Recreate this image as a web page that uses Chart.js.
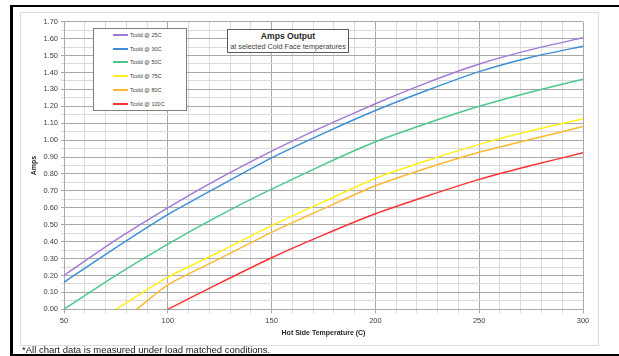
<!DOCTYPE html>
<html>
<head>
<meta charset="utf-8">
<script src="https://cdn.jsdelivr.net/npm/chart.js@4/dist/chart.umd.min.js"></script>
<style>
  html, body { margin: 0; padding: 0; background: #fff; }
  body { width: 619px; height: 356px; position: relative; overflow: hidden; font-family: "Liberation Sans", Arial, sans-serif; }
  .edge { position: absolute; background: #000; }
  #frame { position: absolute; left: 20px; top: 12px; width: 577px; height: 332px; border: 1px solid #dcdcdc; background: #fff; }
  #plot { position: absolute; left: 20px; top: 12px; width: 578px; height: 334px; }
  #legendBox { position: absolute; left: 93px; top: 28px; width: 92px; height: 81px; border: 1px solid #7f7f7f; background: #fff; }
  .lg-row { position: absolute; left: 0; height: 10px; width: 92px; }
  .lg-line { position: absolute; left: 19px; top: 4px; width: 15px; height: 2px; }
  .lg-text { position: absolute; left: 36px; top: 0; font-size: 5.5px; line-height: 10px; color: #404040; white-space: nowrap; }
  #titleBox { position: absolute; left: 227px; top: 29px; width: 120px; height: 22px; border: 1px solid #5a5a5a; background: #fff; text-align: center; color: #262626; }
  #titleBox .t1 { position: absolute; left: 0; right: 0; top: 1px; font-size: 8.6px; font-weight: bold; line-height: 11px; }
  #titleBox .t2 { position: absolute; left: 0; right: 0; top: 12px; font-size: 7.3px; line-height: 9px; color: #404040; white-space: nowrap; }
  #note { position: absolute; left: 22px; top: 343.5px; font-size: 9.5px; line-height: 12px; color: #1a1a1a; white-space: nowrap; }
</style>
</head>
<body>
<div class="edge" style="left:10px;top:5px;width:609px;height:2px;"></div>
<div class="edge" style="left:10px;top:5px;width:3px;height:351px;"></div>
<div id="frame"></div>
<div id="plot"><canvas id="chart" width="578" height="334"></canvas></div>
<div id="legendBox"></div>
<div id="titleBox"><div class="t1">Amps Output</div><div class="t2">at selected Cold Face temperatures</div></div>
<div id="note">*All chart data is measured under load matched conditions.</div>
<div class="edge" style="left:10px;top:353.5px;width:609px;height:2.5px;"></div>
<script>
// Hot side temperatures (C) for each curve
const hotFrom50  = [50, 75, 100, 125, 150, 175, 200, 225, 250, 275, 300];
const hotFrom75  = [75, 100, 125, 150, 175, 200, 225, 250, 275, 300];
const hotFrom85  = [85, 100, 125, 150, 175, 200, 225, 250, 275, 300];
const hotFrom100 = [100, 125, 150, 175, 200, 225, 250, 275, 300];

// Output current (A) at each cold face temperature
const ampsCold25  = [0.20, 0.41, 0.60, 0.775, 0.935, 1.08, 1.215, 1.34, 1.45, 1.535, 1.605];
const ampsCold30  = [0.16, 0.365, 0.56, 0.73, 0.895, 1.04, 1.175, 1.295, 1.405, 1.49, 1.555];
const ampsCold50  = [0.00, 0.20, 0.385, 0.555, 0.71, 0.855, 0.99, 1.10, 1.20, 1.285, 1.36];
const ampsCold75  = [0.00, 0.19, 0.34, 0.495, 0.635, 0.775, 0.88, 0.975, 1.055, 1.125];
const ampsCold80  = [0.00, 0.145, 0.30, 0.455, 0.595, 0.73, 0.835, 0.928, 1.005, 1.08];
const ampsCold100 = [0.00, 0.155, 0.305, 0.44, 0.565, 0.67, 0.768, 0.85, 0.925];

const seriesLabels = ['Tcold @ 25C', 'Tcold @ 30C', 'Tcold @ 50C', 'Tcold @ 75C', 'Tcold @ 80C', 'Tcold @ 100C'];
const seriesColors = ['#a07ad6', '#3d8fd6', '#4cc88c', '#fff01a', '#ffb833', '#ff3333'];

const yTickLabels = ['0.00','0.10','0.20','0.30','0.40','0.50','0.60','0.70','0.80','0.90','1.00','1.10','1.20','1.30','1.40','1.50','1.60','1.70'];
const xTickLabels = [50, 100, 150, 200, 250, 300];

const seriesX = [hotFrom50, hotFrom50, hotFrom50, hotFrom75, hotFrom85, hotFrom100];
const seriesY = [ampsCold25, ampsCold30, ampsCold50, ampsCold75, ampsCold80, ampsCold100];

const datasets = seriesLabels.map((label, i) => ({
  label,
  data: seriesX[i].map((x, j) => ({ x, y: seriesY[i][j] })),
  borderColor: seriesColors[i],
  backgroundColor: seriesColors[i],
  borderWidth: 1.5,
  pointRadius: 0,
  tension: 0.2,
  fill: false
}));

// legend panel
const legendBox = document.getElementById('legendBox');
seriesLabels.forEach((label, i) => {
  const row = document.createElement('div');
  row.className = 'lg-row';
  row.style.top = Math.round(1 + i * 13.7) + 'px';
  row.innerHTML = '<div class="lg-line" style="background:' + seriesColors[i] + '"></div><div class="lg-text">' + label + '</div>';
  legendBox.appendChild(row);
});

const majorGrid = '#a8a8a8';
const minorGrid = '#dadada';
const tickFont = { family: '"Liberation Sans", Arial, sans-serif', size: 7.5 };
const titleFont = { family: '"Liberation Sans", Arial, sans-serif', size: 7, weight: 'bold' };

new Chart(document.getElementById('chart'), {
  type: 'line',
  data: { datasets },
  options: {
    responsive: false,
    animation: false,
    events: [],
    layout: { padding: { top: 9.7, right: 15, left: 0, bottom: 0 } },
    plugins: { legend: { display: false }, title: { display: false }, tooltip: { enabled: false } },
    scales: {
      x: {
        type: 'linear',
        min: 50,
        max: 300,
        afterFit: s => { s.height = 36.7; },
        ticks: {
          stepSize: 10,
          autoSkip: false,
          maxRotation: 0,
          padding: 3,
          color: '#404040',
          font: tickFont,
          callback: v => xTickLabels.includes(v) ? String(v) : ''
        },
        grid: {
          tickLength: 4,
          color: c => (c.tick && c.tick.value % 50 === 0) ? majorGrid : minorGrid
        },
        border: { color: majorGrid },
        title: { display: true, text: 'Hot Side Temperature (C)', font: titleFont, color: '#262626', padding: { top: 0, bottom: 9 } }
      },
      y: {
        min: 0,
        max: 1.7,
        afterFit: s => { s.width = 44; },
        ticks: {
          stepSize: 0.05,
          autoSkip: false,
          padding: 3,
          color: '#404040',
          font: tickFont,
          callback: v => {
            const k = Math.round(v * 100);
            return k % 10 === 0 ? yTickLabels[k / 10] : '';
          }
        },
        grid: {
          tickLength: 3,
          color: c => (c.tick && Math.round(c.tick.value * 100) % 10 === 0) ? majorGrid : minorGrid
        },
        border: { color: majorGrid },
        title: { display: true, text: 'Amps', font: titleFont, color: '#262626', padding: { top: 10.2, bottom: 0 } }
      }
    }
  }
});
</script>
</body>
</html>
